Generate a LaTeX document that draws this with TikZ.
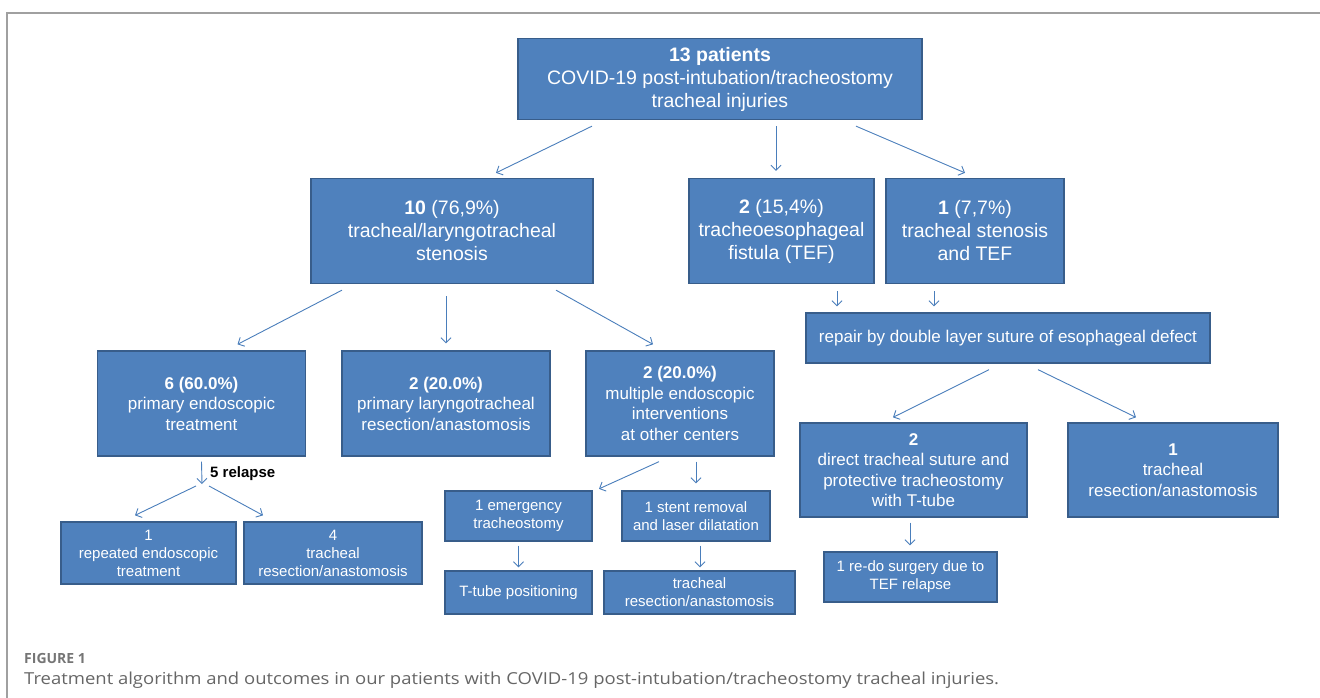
\documentclass[tikz,border=0pt]{standalone}
\usepackage{fontspec}
\setmainfont{Liberation Sans}
\newfontfamily\capfont{Open Sans}
\usetikzlibrary{arrows.meta}
\definecolor{boxfill}{HTML}{4F81BD}
\definecolor{boxline}{HTML}{385D8A}
\definecolor{arrcol}{HTML}{4A7EBB}
\definecolor{framecol}{HTML}{A0A0A0}
\definecolor{capcol}{HTML}{666666}
\newcommand{\fbig}{\fontsize{19.5}{23}\selectfont}
\newcommand{\fmid}{\fontsize{17}{20.5}\selectfont}
\newcommand{\fsml}{\fontsize{15}{18}\selectfont}
\tikzset{
  flowbox/.style={draw=boxline, fill=boxfill, text=white, line width=1.3pt, inner sep=0pt, align=center},
  bigbox/.style={flowbox, font=\fbig},
  midbox/.style={flowbox, font=\fmid},
  smlbox/.style={flowbox, font=\fsml},
  arr/.style={draw=arrcol, line width=0.9pt, -{Straight Barb[length=5pt,width=10pt]}},
}
\begin{document}
\begin{tikzpicture}[x=1pt,y=-1pt]
\useasboundingbox (0,0) rectangle (1320,698);
% frame
\draw[framecol, line width=1.5pt] (7,698) -- (7,13) -- (1320,13);

% nodes
\node[bigbox, minimum width=404pt, minimum height=81pt] (top) at (720,79) {\textbf{13 patients}\\COVID-19 post-intubation/tracheostomy\\tracheal injuries};
\node[bigbox, minimum width=282pt, minimum height=105pt] (ten) at (452,231) {\textbf{10} (76,9\%)\\tracheal/laryngotracheal\\stenosis};
\node[bigbox, minimum width=185pt, minimum height=105pt] (tef) at (781.5,231) {\textbf{2} (15,4\%)\\tracheoesophageal\\fistula (TEF)};
\node[bigbox, minimum width=178pt, minimum height=105pt] (one) at (975,231) {\textbf{1} (7,7\%)\\tracheal stenosis\\and TEF};
\node[midbox, minimum width=404pt, minimum height=50pt] (rep) at (1008,338) {repair by double layer suture of esophageal defect};
\node[midbox, minimum width=208pt, minimum height=105pt] (six) at (201.5,403.5) {\textbf{6 (60.0\%)}\\primary endoscopic\\treatment};
\node[midbox, minimum width=208pt, minimum height=105pt] (prim) at (446,403.5) {\textbf{2 (20.0\%)}\\primary laryngotracheal\\resection/anastomosis};
\node[midbox, minimum width=188pt, minimum height=105pt] (mult) at (680,403.5) {\textbf{2 (20.0\%)}\\multiple endoscopic\\interventions\\at other centers};
\node[midbox, minimum width=227pt, minimum height=94pt] (dir) at (913.5,470) {\textbf{2}\\direct tracheal suture and\\protective tracheostomy\\with T-tube};
\node[midbox, minimum width=210pt, minimum height=94pt] (tr1) at (1173,470) {\textbf{1}\\tracheal\\resection/anastomosis};
\node[smlbox, minimum width=175pt, minimum height=62pt] (rpt) at (148.5,553) {1\\repeated endoscopic\\treatment};
\node[smlbox, minimum width=178pt, minimum height=62pt] (four) at (333,553) {4\\tracheal\\resection/anastomosis};
\node[smlbox, minimum width=147pt, minimum height=50pt] (emg) at (518.5,516) {1 emergency\\tracheostomy};
\node[smlbox, minimum width=148pt, minimum height=50pt] (stent) at (696,516) {1 stent removal\\and laser dilatation};
\node[smlbox, minimum width=147pt, minimum height=43pt] (ttube) at (518.5,592.5) {T-tube positioning};
\node[smlbox, minimum width=191pt, minimum height=43pt] (trres) at (699.5,592.5) {tracheal\\resection/anastomosis};
\node[smlbox, minimum width=173pt, minimum height=50pt] (redo) at (910.5,577) {1 re-do surgery due to\\TEF relapse};

\coordinate (rel) at (202,484);
\node[font=\fsml\bfseries, anchor=west, inner sep=0pt] (rellabel) at (210,474) {5 relapse};

% connectors
\draw[arr] ([xshift=-128pt,yshift=-6pt]top.south) -- ([xshift=44pt,yshift=5pt]ten.north);
\draw[arr] ([xshift=56pt,yshift=-6pt]top.south) -- ([xshift=-5.5pt,yshift=7pt]tef.north);
\draw[arr] ([xshift=136pt,yshift=-6pt]top.south) -- ([xshift=-10pt,yshift=5pt]one.north);
\draw[arr] ([xshift=-110pt,yshift=-6pt]ten.south) -- ([xshift=36pt,yshift=6pt]six.north);
\draw[arr] ([xshift=-6pt,yshift=-12pt]ten.south) -- ([yshift=7pt]prim.north);
\draw[arr] ([xshift=104pt,yshift=-6pt]ten.south) -- ([xshift=-27pt,yshift=6pt]mult.north);
\draw[arr] ([xshift=55.5pt,yshift=-7pt]tef.south) -- ([xshift=-171pt,yshift=6pt]rep.north);
\draw[arr] ([xshift=-41pt,yshift=-7pt]one.south) -- ([xshift=-74pt,yshift=6pt]rep.north);
\draw[arr] ([xshift=-19pt,yshift=-6pt]rep.south) -- ([xshift=-20.5pt,yshift=5pt]dir.north);
\draw[arr] ([xshift=30pt,yshift=-6pt]rep.south) -- ([xshift=-37pt,yshift=5pt]tr1.north);
\draw[arr] ([yshift=-5pt]six.south) -- (rel);
\draw[arr] ([xshift=-6pt,yshift=-2pt]rel) -- ([xshift=-13.5pt,yshift=6pt]rpt.north);
\draw[arr] ([xshift=7pt,yshift=-2pt]rel) -- ([xshift=-70pt,yshift=6pt]four.north);
\draw[arr] ([xshift=-21pt,yshift=-5pt]mult.south) -- ([xshift=80.5pt,yshift=1.5pt]emg.north);
\draw[arr] ([xshift=16pt,yshift=-5pt]mult.south) -- ([yshift=7pt]stent.north);
\draw[arr] ([yshift=-4pt]emg.south) -- ([yshift=3pt]ttube.north);
\draw[arr] ([xshift=4pt,yshift=-4pt]stent.south) -- ([xshift=0.5pt,yshift=3pt]trres.north);
\draw[arr] ([xshift=-3.5pt,yshift=-5pt]dir.south) -- ([xshift=-0.5pt,yshift=6pt]redo.north);

% caption
\node[font=\capfont\bfseries\fontsize{14}{16}\selectfont, text=capcol!90, anchor=west, inner sep=0pt] (figlab) at (24,658) {FIGURE 1};
\node[font=\capfont\fontsize{16.5}{19}\selectfont, text=capcol, anchor=west, inner sep=0pt] (caption) at (24,680) {\scalebox{1.12}[1]{Treatment algorithm and outcomes in our patients with COVID-19 post-intubation/tracheostomy tracheal injuries.}};
\end{tikzpicture}
\end{document}
